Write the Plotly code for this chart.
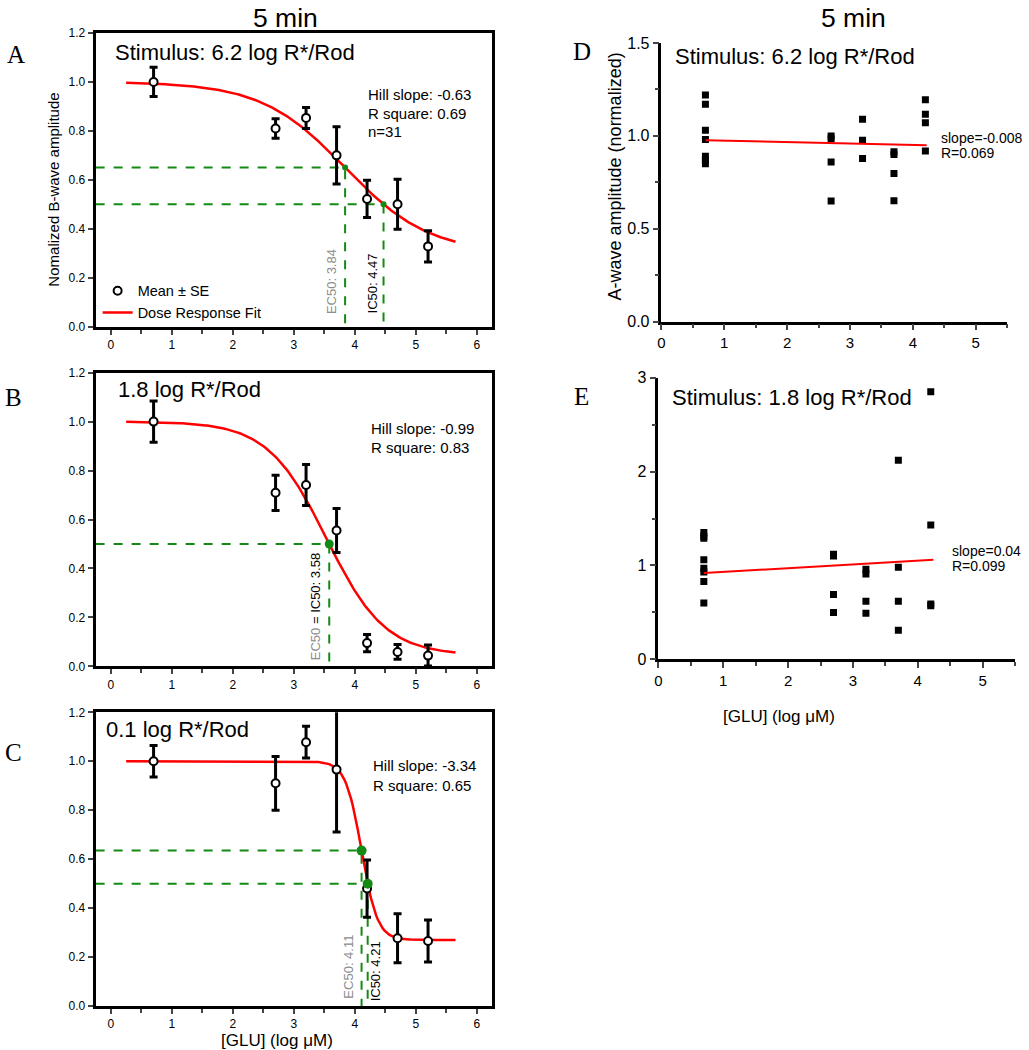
import numpy as np
import plotly.graph_objects as go

# ---- data ----
glu_log = [0.7, 2.7, 3.2, 3.7, 4.2, 4.7, 5.2]

b_mean_62 = [1.00, 0.81, 0.853, 0.70, 0.522, 0.50, 0.328]
b_se_62 = [0.06, 0.04, 0.043, 0.117, 0.076, 0.102, 0.064]
b_mean_18 = [1.00, 0.709, 0.741, 0.555, 0.095, 0.059, 0.044]
b_se_18 = [0.084, 0.072, 0.084, 0.09, 0.035, 0.03, 0.043]
b_mean_01 = [1.00, 0.91, 1.078, 0.966, 0.48, 0.277, 0.266]
b_se_01 = [0.064, 0.11, 0.065, 0.255, 0.117, 0.10, 0.086]

# dose response fit parameters (as drawn): top, bottom, logEC50, hill slope
fit_62 = [1.0, 0.30, 3.84, -0.63]
fit_18 = [1.0, 0.045, 3.5345, -0.90]
fit_01 = [1.0, 0.27, 4.11, -3.34]
fit_x_range = [0.25, 5.65]

# EC50 / IC50 markers (x, y)
ec50_62 = [3.84, 0.65]
ic50_62 = [4.47, 0.50]
ec50_18 = [3.58, 0.50]
ec50_01 = [4.11, 0.635]
ic50_01 = [4.21, 0.50]

# A-wave scatter (normalized), per concentration
aw_x_62 = [0.7] * 7 + [2.7] * 4 + [3.2] * 3 + [3.7] * 4 + [4.2] * 4
aw_y_62 = [1.22, 1.17, 1.03, 0.98, 0.89, 0.87, 0.85,
           1.00, 0.985, 0.86, 0.65,
           1.09, 0.977, 0.878,
           0.914, 0.90, 0.797, 0.651,
           1.195, 1.117, 1.07, 0.919]
aw_line_x_62 = [0.7, 4.22]
aw_line_y_62 = [0.977, 0.949]

aw_x_18 = [0.7] * 8 + [2.7] * 4 + [3.2] * 4 + [3.7] * 4 + [4.2] * 4
aw_y_18 = [1.35, 1.31, 1.29, 1.06, 0.97, 0.93, 0.83, 0.60,
           1.12, 1.10, 0.69, 0.50,
           0.96, 0.91, 0.62, 0.49,
           2.12, 0.98, 0.62, 0.31,
           2.85, 1.43, 0.59, 0.57]
aw_line_x_18 = [0.7, 4.24]
aw_line_y_18 = [0.92, 1.06]

GREEN = '#138a13'
FONT = 'Liberation Sans, Arial, sans-serif'
W, H = 1029, 1066
X0 = -0.25


def px_x(p):
    return p / W


def px_y(p):
    # the page comes out shifted 8px down and squeezed a little vertically
    return 1 - ((p - 8) / 0.985) / H


def hill(x, p):
    top, bottom, c, h = p
    return bottom + (top - bottom) / (1 + 10 ** ((c - x) * h))


fig = go.Figure()


def dose_panel(ax, means, ses, fit, marks, dot_size, legend=False):
    xa, ya = 'x' + ax, 'y' + ax
    # green guide lines
    for mx, my in marks:
        fig.add_trace(go.Scatter(x=[X0, mx, mx], y=[my, my, 0], mode='lines',
                                 line=dict(color=GREEN, width=2, dash='dash'),
                                 xaxis=xa, yaxis=ya, showlegend=False, hoverinfo='skip'))
    xs = np.linspace(fit_x_range[0], fit_x_range[1], 200)
    fig.add_trace(go.Scatter(x=xs, y=hill(xs, fit), mode='lines', name='Dose Response Fit',
                             line=dict(color='#ff0000', width=2.5),
                             xaxis=xa, yaxis=ya, showlegend=legend, legendrank=2))
    fig.add_trace(go.Scatter(x=glu_log, y=means, mode='markers', name='Mean \u00b1 SE',
                             marker=dict(symbol='circle', size=8, color='white',
                                         line=dict(color='black', width=2)),
                             error_y=dict(type='data', array=ses, color='black', thickness=3, width=4),
                             xaxis=xa, yaxis=ya, showlegend=legend, legendrank=1))
    fig.add_trace(go.Scatter(x=[m[0] for m in marks], y=[m[1] for m in marks], mode='markers',
                             marker=dict(color=GREEN, size=dot_size),
                             xaxis=xa, yaxis=ya, showlegend=False, hoverinfo='skip'))


def awave_panel(ax, xs, ys, lx, ly):
    xa, ya = 'x' + ax, 'y' + ax
    fig.add_trace(go.Scatter(x=xs, y=ys, mode='markers',
                             marker=dict(symbol='square', size=7, color='black'),
                             xaxis=xa, yaxis=ya, showlegend=False))
    fig.add_trace(go.Scatter(x=lx, y=ly, mode='lines', line=dict(color='#ff0000', width=2),
                             xaxis=xa, yaxis=ya, showlegend=False))


dose_panel('', b_mean_62, b_se_62, fit_62, [ec50_62, ic50_62], 6, legend=True)
dose_panel('2', b_mean_18, b_se_18, fit_18, [ec50_18], 9)
dose_panel('3', b_mean_01, b_se_01, fit_01, [ec50_01, ic50_01], 10)
awave_panel('4', aw_x_62, aw_y_62, aw_line_x_62, aw_line_y_62)
awave_panel('5', aw_x_18, aw_y_18, aw_line_x_18, aw_line_y_18)

# ---- axes ----
box_x = dict(range=[X0, 6.25], dtick=1, tick0=0, showline=True, mirror=True, linecolor='black',
             linewidth=3, ticks='outside', ticklen=5, tickwidth=2, showgrid=False, zeroline=False,
             tickfont=dict(size=12, family=FONT, color='black'),
             minor=dict(dtick=0.5, ticklen=4, tickwidth=2, ticks='outside'))
box_y = dict(range=[0, 1.2], dtick=0.2, tickformat='.1f', showline=True, mirror=True, linecolor='black',
             linewidth=3, ticks='outside', ticklen=5, tickwidth=2, showgrid=False, zeroline=False,
             tickfont=dict(size=12, family=FONT, color='black'))
open_x = dict(range=[0, 5.5], dtick=1, tick0=0, showline=True, linecolor='black', linewidth=2.5,
              ticks='outside', ticklen=6, tickwidth=2, showgrid=False, zeroline=False,
              tickfont=dict(size=15, family=FONT, color='black'),
              minor=dict(dtick=0.5, ticklen=4, tickwidth=2, ticks='outside'))
open_y = dict(showline=True, linecolor='black', linewidth=2.5, ticks='outside', ticklen=6, tickwidth=2,
              showgrid=False, zeroline=False, tickfont=dict(size=16, family=FONT, color='black'))

left_dom = [px_x(92), px_x(490)]
fig.update_layout(
    xaxis=dict(box_x, domain=left_dom, anchor='y'),
    yaxis=dict(box_y, domain=[px_y(327), px_y(33)], anchor='x'),
    xaxis2=dict(box_x, domain=left_dom, anchor='y2'),
    yaxis2=dict(box_y, domain=[px_y(667), px_y(373)], anchor='x2'),
    xaxis3=dict(box_x, domain=left_dom, anchor='y3'),
    yaxis3=dict(box_y, domain=[px_y(1007), px_y(713)], anchor='x3'),
    xaxis4=dict(open_x, domain=[px_x(660), px_x(1007)], anchor='y4'),
    yaxis4=dict(open_y, range=[0, 1.5], dtick=0.5, tickformat='.1f',
                minor=dict(dtick=0.25, ticklen=4, tickwidth=2, ticks='outside'),
                domain=[px_y(322), px_y(43)], anchor='x4'),
    xaxis5=dict(open_x, domain=[px_x(657), px_x(1015)], anchor='y5'),
    yaxis5=dict(open_y, range=[0, 3], dtick=1,
                minor=dict(dtick=0.5, ticklen=4, tickwidth=2, ticks='outside'),
                domain=[px_y(660), px_y(378)], anchor='x5'),
)

# ---- text ----
ann = []


def txt(text, x, y, xref='paper', yref='paper', size=14, color='black', angle=0,
        xanchor='center', yanchor='middle', family=FONT):
    ann.append(dict(text=text, x=x, y=y, xref=xref, yref=yref, showarrow=False, textangle=angle,
                    xanchor=xanchor, yanchor=yanchor,
                    font=dict(size=size, color=color, family=family)))


def lines(texts, x, ys, ax, size):
    for t, y in zip(texts, ys):
        txt(t, x, y, 'x' + ax, 'y' + ax, size=size, xanchor='left')


# headers and panel letters
txt('5 min', px_x(283), px_y(18), size=26.5)
txt('5 min', px_x(853), px_y(18), size=26.5)
serif = 'Liberation Serif, Times New Roman, serif'
txt('A', px_x(12), px_y(55), size=25, family=serif)
txt('B', px_x(10), px_y(398), size=25, family=serif)
txt('C', px_x(10), px_y(753), size=25, family=serif)
txt('D', px_x(580), px_y(52), size=25, family=serif)
txt('E', px_x(580), px_y(397), size=25, family=serif)

# axis titles
txt('Nomalized B-wave amplitude', px_x(50), px_y(190), size=15, angle=-90)
txt('A-wave amplitude (normalized)', px_x(613), px_y(177), size=18, angle=-90)
txt('[GLU] (log \u03bcM)', px_x(274), px_y(1041), size=17)
txt('[GLU] (log \u03bcM)', px_x(778), px_y(717), size=17)

# stimulus labels
txt('Stimulus: 6.2 log R*/Rod', 0.04, 1.12, 'x', 'y', size=22, xanchor='left')
txt('1.8 log R*/Rod', 0.08, 1.13, 'x2', 'y2', size=22, xanchor='left')
txt('0.1 log R*/Rod', -0.12, 1.13, 'x3', 'y3', size=22, xanchor='left')
txt('Stimulus: 6.2 log R*/Rod', 0.19, 1.425, 'x4', 'y4', size=22, xanchor='left')
txt('Stimulus: 1.8 log R*/Rod', 0.18, 2.79, 'x5', 'y5', size=22, xanchor='left')

# fit stats
lines(['Hill slope: -0.63', 'R square: 0.69', 'n=31'], 4.18, [0.948, 0.873, 0.798], '', 15)
lines(['Hill slope: -0.99', 'R square: 0.83'], 4.23, [0.971, 0.894], '2', 15)
lines(['Hill slope: -3.34', 'R square: 0.65'], 4.27, [0.982, 0.903], '3', 15)
lines(['slope=-0.008', 'R=0.069'], 4.42, [0.991, 0.910], '4', 14)
lines(['slope=0.04', 'R=0.099'], 4.49, [1.149, 0.989], '5', 14)

# EC50 / IC50 labels
txt('EC50: 3.84', 3.62, 0.185, 'x', 'y', size=13, color='#8c8c8c', angle=-90)
txt('IC50: 4.47', 4.29, 0.175, 'x', 'y', size=13, angle=-90)
txt('<span style="color:#8c8c8c">EC50</span> = IC50: 3.58', 3.36, 0.245, 'x2', 'y2', size=13, angle=-90)
txt('EC50: 4.11', 3.9, 0.16, 'x3', 'y3', size=13, color='#8c8c8c', angle=-90)
txt('IC50: 4.21', 4.34, 0.14, 'x3', 'y3', size=13, angle=-90)

fig.update_layout(
    annotations=ann,
    width=W, height=H,
    margin=dict(l=0, r=0, t=0, b=0),
    paper_bgcolor='white', plot_bgcolor='white',
    font=dict(family=FONT, color='black'),
    legend=dict(x=px_x(94), y=px_y(275), xanchor='left', yanchor='top',
                bgcolor='rgba(0,0,0,0)', font=dict(size=14.5, family=FONT),
                tracegroupgap=0, itemwidth=30),
)

# drop the default body margin so the figure sits at the window's corner
fig.write_html('out.html', config={'displayModeBar': False},
               post_script="document.body.style.margin='0px';")
